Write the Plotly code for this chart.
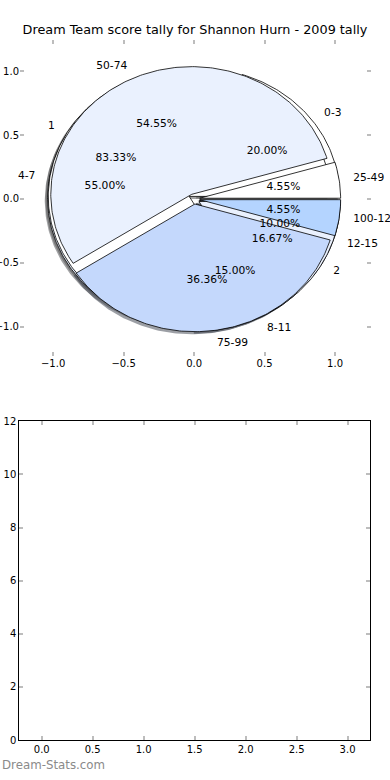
import numpy as np
import plotly.graph_objects as go

# ---------------- data ----------------
title_text = "Dream Team score tally for Shannon Hurn - 2009 tally"

pie_b_labels = ["0-3", "4-7", "8-11", "12-15"]
pie_b_values = [4, 11, 3, 2]

pie_c_labels = ["1", "2"]
pie_c_values = [5, 1]

pie_a_labels = ["25-49", "50-74", "75-99", "100-124"]
pie_a_values = [1, 12, 8, 1]

palette = ["#ffffff", "#eaf1fe", "#c4d8fc", "#b4d4ff"]

pie_ticks = [-1.0, -0.5, 0.0, 0.5, 1.0]
bar_xticks = [0.0, 0.5, 1.0, 1.5, 2.0, 2.5, 3.0]
bar_yticks = [0, 2, 4, 6, 8, 10, 12]

# ---------------- style ----------------
W, H = 390, 780
FONT = "DejaVu Sans"
EXPLODE = 0.04
SHADOW_OFF = -0.02
LABEL_DIST = 1.1
PCT_DIST = 0.6


def fx(p):
    return p / W


def fy(p):
    return 1 - p / H


def hex_rgb(h):
    h = h.lstrip("#")
    return tuple(int(h[i:i + 2], 16) for i in (0, 2, 4))


def wedges(values):
    vals = np.asarray(values, float)
    fr = vals / vals.sum()
    out = []
    t1 = 0.0
    for f in fr:
        t2 = t1 + f
        tm = np.pi * (t1 + t2)
        cx = EXPLODE * np.cos(tm)
        cy = EXPLODE * np.sin(tm)
        ang = np.linspace(2 * np.pi * t1, 2 * np.pi * t2, max(8, int(f * 400)))
        xs = np.concatenate([[cx], cx + np.cos(ang), [cx]])
        ys = np.concatenate([[cy], cy + np.sin(ang), [cy]])
        out.append(dict(xs=xs, ys=ys, cx=cx, cy=cy, tm=tm, frac=f))
        t1 = t2
    return out


pies = [(pie_b_labels, pie_b_values), (pie_c_labels, pie_c_values), (pie_a_labels, pie_a_values)]
geo = [wedges(v) for _, v in pies]

fig = go.Figure()

# shadows (all beneath all wedges)
for g in geo:
    for i, w in enumerate(g):
        r, gg, b = hex_rgb(palette[i % len(palette)])
        col = "rgba(%d,%d,%d,0.5)" % (0.3 * r, 0.3 * gg, 0.3 * b)
        fig.add_trace(go.Scatter(x=w["xs"] + SHADOW_OFF, y=w["ys"] + SHADOW_OFF, mode="lines",
                                 fill="toself", fillcolor=col, line=dict(width=0, color=col),
                                 hoverinfo="skip", showlegend=False, xaxis="x", yaxis="y"))

# wedges
for g in geo:
    for i, w in enumerate(g):
        fig.add_trace(go.Scatter(x=w["xs"], y=w["ys"], mode="lines", fill="toself",
                                 fillcolor=palette[i % len(palette)],
                                 line=dict(width=0.8, color="black"),
                                 hoverinfo="skip", showlegend=False, xaxis="x", yaxis="y"))

# labels and percentages
for (labels, _), g in zip(pies, geo):
    for lab, w in zip(labels, g):
        xt = w["cx"] + LABEL_DIST * np.cos(w["tm"])
        yt = w["cy"] + LABEL_DIST * np.sin(w["tm"])
        pos = "middle right" if xt > 0 else "middle left"
        fig.add_trace(go.Scatter(x=[xt], y=[yt], mode="text", text=[lab], textposition=pos,
                                 textfont=dict(family=FONT, size=10.7, color="black"),
                                 cliponaxis=False,
                                 hoverinfo="skip", showlegend=False, xaxis="x", yaxis="y"))
        xp = w["cx"] + PCT_DIST * np.cos(w["tm"])
        yp = w["cy"] + PCT_DIST * np.sin(w["tm"])
        fig.add_trace(go.Scatter(x=[xp], y=[yp], mode="text", text=["%.2f%%" % (w["frac"] * 100)],
                                 textposition="middle center", cliponaxis=False,
                                 textfont=dict(family=FONT, size=10.7, color="black"),
                                 hoverinfo="skip", showlegend=False, xaxis="x", yaxis="y"))

# empty lower axes
fig.add_trace(go.Scatter(x=[], y=[], mode="markers", showlegend=False, xaxis="x2", yaxis="y2"))

tick_common = dict(ticks="inside", ticklen=4, tickwidth=1.5, tickcolor="#bdbdbd",
                   showgrid=False, zeroline=False, automargin=False,
                   tickfont=dict(family=FONT, size=10, color="black"))


def fmt(v):
    s = "%.1f" % v
    return s.replace("-", "\u2212")


fig.update_layout(
    width=W, height=H,
    margin=dict(l=0, r=0, t=0, b=0),
    paper_bgcolor="white", plot_bgcolor="white",
    showlegend=False,
    title=dict(text=title_text, x=0.5, xanchor="center", xref="paper",
               y=fy(30), yanchor="middle", yref="paper",
               font=dict(family=FONT, size=12.8, color="black")),
    xaxis=dict(domain=[fx(20), fx(371)], range=[-1.235, 1.255], showline=False,
               mirror="allticks", tickvals=pie_ticks, ticktext=[fmt(v) for v in pie_ticks],
               anchor="y", **tick_common),
    yaxis=dict(domain=[fy(356), fy(40)], range=[-1.23, 1.245], showline=False,
               mirror="allticks", tickvals=pie_ticks, ticktext=[fmt(v) for v in pie_ticks],
               anchor="x", **tick_common),
    xaxis2=dict(domain=[fx(19.3), fx(370)], range=[-0.22, 3.22], showline=True,
                linecolor="black", linewidth=1, mirror="allticks",
                tickvals=bar_xticks, ticktext=["%.1f" % v for v in bar_xticks],
                anchor="y2", **tick_common),
    yaxis2=dict(domain=[fy(740), fy(421.3)], range=[0, 12], showline=True,
                linecolor="black", linewidth=1, mirror="allticks",
                tickvals=bar_yticks, ticktext=[str(v) for v in bar_yticks],
                anchor="x2", **tick_common),
    annotations=[dict(text="Dream-Stats.com", x=0, xref="paper", xanchor="left",
                      y=fy(765), yref="paper", yanchor="middle", showarrow=False,
                      font=dict(family=FONT, size=11.8, color="#8a8a8a"))],
)

fig.write_html("out.html", config={"displayModeBar": False},
               post_script="document.body.style.margin='0';document.body.style.overflow='hidden';")
